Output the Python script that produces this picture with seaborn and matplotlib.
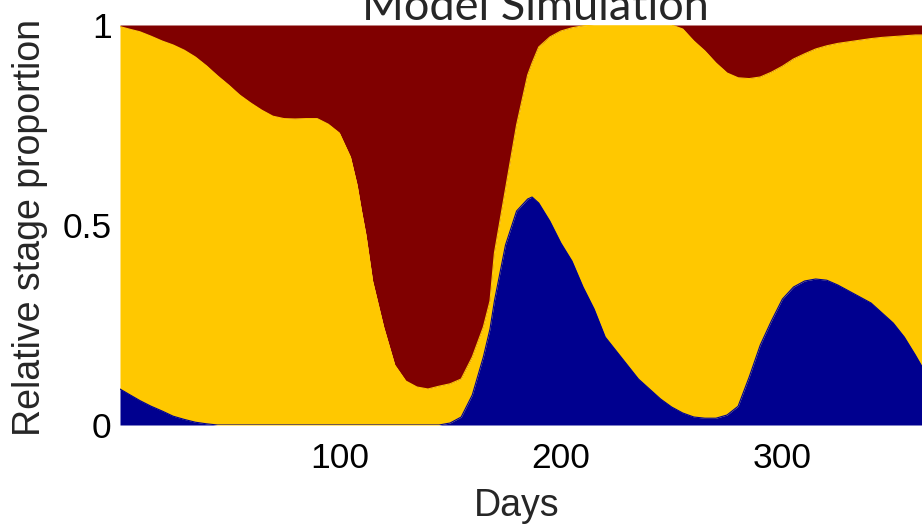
import numpy as np
import pandas as pd
import seaborn as sns
import matplotlib
matplotlib.use("Agg")
import matplotlib.pyplot as plt

# ---- data ----
days = [1, 5, 10, 15, 20, 25, 30, 35, 40, 45, 50, 55, 60, 65, 70, 75, 80, 85, 90, 95,
        100, 105, 108, 110, 112, 115, 120, 125, 130, 135, 140, 145, 150, 155, 160, 165,
        168, 170, 175, 180, 185, 187, 190, 195, 200, 205, 210, 215, 220, 225, 230, 235,
        240, 245, 250, 255, 260, 265, 270, 275, 280, 285, 290, 295, 300, 305, 310, 315,
        320, 325, 330, 335, 340, 345, 350, 355, 360, 363]

# proportion of stage 1 (bottom, blue)
stage1 = [0.090, 0.077, 0.061, 0.047, 0.035, 0.022, 0.014, 0.007, 0.003, 0.0, 0.0, 0.0,
          0.0, 0.0, 0.0, 0.0, 0.0, 0.0, 0.0, 0.0, 0.0, 0.0, 0.0, 0.0, 0.0, 0.0, 0.0, 0.0,
          0.0, 0.0, 0.0, 0.0, 0.005, 0.020, 0.075, 0.170, 0.240, 0.310, 0.450, 0.535,
          0.565, 0.570, 0.555, 0.510, 0.455, 0.410, 0.345, 0.290, 0.220, 0.185, 0.150,
          0.115, 0.090, 0.065, 0.045, 0.030, 0.020, 0.017, 0.017, 0.025, 0.047, 0.120,
          0.200, 0.260, 0.315, 0.345, 0.360, 0.365, 0.362, 0.350, 0.335, 0.320, 0.305,
          0.280, 0.255, 0.220, 0.175, 0.146]

# cumulative proportion of stages 1+2 (top of the yellow band)
stage12 = [0.996, 0.990, 0.983, 0.972, 0.960, 0.950, 0.937, 0.920, 0.898, 0.873, 0.850,
           0.825, 0.805, 0.787, 0.772, 0.766, 0.765, 0.766, 0.766, 0.752, 0.730, 0.670,
           0.600, 0.535, 0.475, 0.360, 0.245, 0.150, 0.110, 0.095, 0.090, 0.097, 0.103,
           0.115, 0.170, 0.245, 0.310, 0.430, 0.590, 0.750, 0.875, 0.905, 0.945, 0.970,
           0.985, 0.993, 0.998, 1.0, 1.0, 1.0, 1.0, 1.0, 1.0, 1.0, 1.0, 0.990, 0.960,
           0.935, 0.905, 0.880, 0.868, 0.866, 0.870, 0.882, 0.897, 0.915, 0.928, 0.940,
           0.948, 0.954, 0.958, 0.962, 0.966, 0.969, 0.971, 0.973, 0.975, 0.975]

x_ticks = [100, 200, 300]
y_ticks = [0, 0.5, 1]
y_tick_labels = ["0", "0.5", "1"]

title = "Model Simulation"
xlabel = "Days"
ylabel = "Relative stage proportion"

colors = {"blue": "#00008F", "yellow": "#FFC800", "red": "#800000"}

# ---- figure ----
sns.set_theme(style="white")
plt.rcParams["font.family"] = ["Liberation Sans", "DejaVu Sans"]

df = pd.DataFrame({"day": days, "s1": stage1, "s12": stage12})
df["one"] = 1.0

fig = plt.figure(figsize=(9.22, 5.25), dpi=100)
ax = fig.add_axes([120 / 922, 100 / 525, 802 / 922, 400 / 525])

ax.fill_between(df["day"], df["s12"], df["one"], color=colors["red"], lw=0)
ax.fill_between(df["day"], df["s1"], df["s12"], color=colors["yellow"], lw=0)
ax.fill_between(df["day"], 0, df["s1"], color=colors["blue"], lw=0)
sns.lineplot(data=df, x="day", y="s12", ax=ax, color=colors["yellow"], lw=0.8)
sns.lineplot(data=df, x="day", y="s1", ax=ax, color=colors["blue"], lw=0.8)

ax.set_xlim(1, 363)
ax.set_ylim(0, 1)
ax.set_xticks(x_ticks)
ax.set_xticklabels([str(t) for t in x_ticks])
ax.set_yticks(y_ticks)
ax.set_yticklabels(y_tick_labels)
ax.tick_params(axis="both", length=0, labelsize=25.5, colors="black")
ax.tick_params(axis="x", pad=12)
ax.tick_params(axis="y", pad=6)
ax.set_xlabel("")
ax.set_ylabel("")
for s in ax.spines.values():
    s.set_visible(False)

fig.text(517 / 922, 1 - 506 / 525, xlabel, ha="center", va="center", fontsize=27)
fig.text(30 / 922, 1 - 228 / 525, ylabel, ha="center", va="center", rotation=90,
         fontsize=27)
fig.text(535 / 922, 1 - 20 / 525, title, ha="center", va="baseline", fontsize=32.5,
         family=["Lato", "DejaVu Sans"])

fig.savefig("out.png", dpi=100)
